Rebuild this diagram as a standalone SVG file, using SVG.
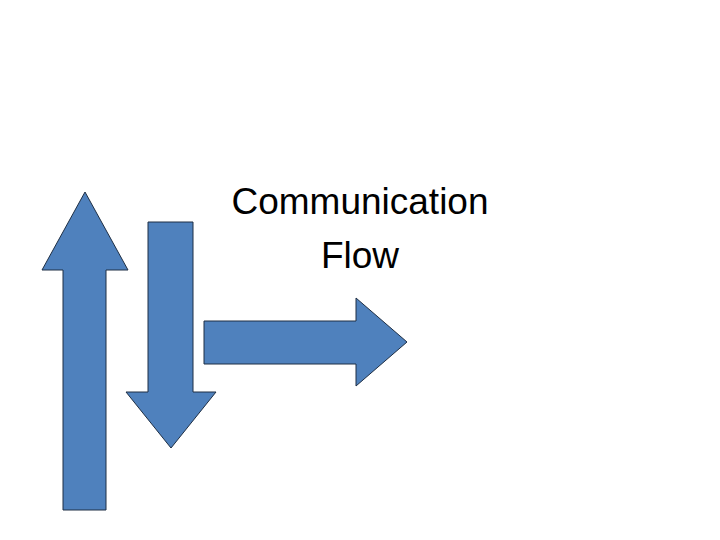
<svg xmlns="http://www.w3.org/2000/svg" width="720" height="540" viewBox="0 0 720 540">
<style>
.a{fill:#4f81bd;stroke:#1f2f44;stroke-width:1}
.t{font-family:"Liberation Sans",Arial,sans-serif;font-size:37px;fill:#000;text-anchor:middle}
</style>
<rect width="720" height="540" fill="#fff"/>
<g id="up-arrow"><polygon class="a" points="63,510 106,510 106,270 128,270 85,192 42,270 63,270"/></g>
<g id="down-arrow"><polygon class="a" points="148,222 193,222 193,392 216,392 171,448 126,392 148,392"/></g>
<g id="right-arrow"><polygon class="a" points="204,321 356,321 356,298 407,342 356,386 356,364 204,364"/></g>
<g id="title">
<text class="t" x="360" y="214">Communication</text>
<text class="t" x="360" y="268">Flow</text>
</g>
</svg>
